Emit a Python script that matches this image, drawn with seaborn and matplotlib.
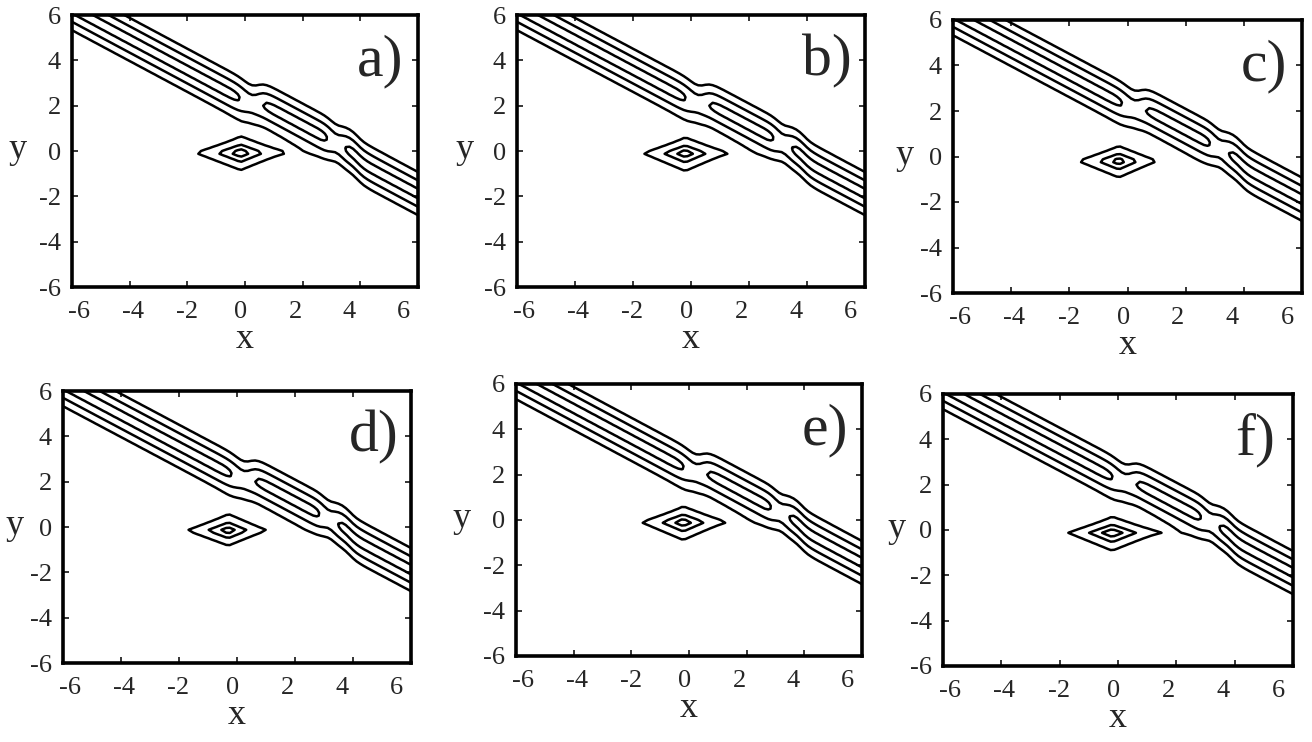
from pathlib import Path

import matplotlib.pyplot as plt
from matplotlib.axes import Axes
import numpy as np
import seaborn as sns

OUTPUT_PATH: Path = Path("out.png")

# === Chart values ===

PANEL_LABELS: list[str] = ["a)", "b)", "c)", "d)", "e)", "f)"]
TICK_VALUES: list[int] = [-6, -4, -2, 0, 2, 4, 6]
TICK_LABELS: list[str] = ["-6", "-4", "-2", "0", "2", "4", "6"]
CONTOUR_LEVELS: list[float] = [0.2, 0.45, 0.75]

# line soliton (the diagonal band), the same in all six panels
BAND_Y_AT_X0: float = 2.2
BAND_SLOPE: float = -0.68
BAND_HALF_WIDTH: float = 0.95  # vertical half width of the outer contour
BAND_PEAK: float = 0.82
BAND_GAP_PEAK: float = 0.6
GAP_X: list[float] = [0.23, 3.17]
GAP_HALF_LENGTH: list[float] = [0.4, 0.32]
BAND_SHIFT: float = 0.3
SHIFT_X: list[float] = [0.45, 3.9]

# lump near the origin, one value per panel (half widths of the outer contour)
LUMP_X: list[float] = [-0.15, -0.2, -0.3, -0.3, -0.2, -0.2]
LUMP_Y: list[float] = [-0.08, -0.1, -0.2, -0.15, -0.1, -0.12]
LUMP_PEAK: list[float] = [1.12, 1.08, 1.05, 1.05, 1.08, 1.12]
LUMP_LEFT: list[float] = [1.56, 1.45, 1.39, 1.42, 1.45, 1.51]
LUMP_RIGHT: list[float] = [1.46, 1.4, 1.28, 1.28, 1.4, 1.53]
LUMP_UP: list[float] = [0.67, 0.65, 0.63, 0.68, 0.65, 0.66]
LUMP_DOWN: list[float] = [0.76, 0.78, 0.72, 0.67, 0.78, 0.79]

# === Layout (pixels: left, top, right, bottom) ===
FIG_W, FIG_H = 1312, 742
AXES_BOXES = [
    (72, 15, 418, 287),
    (517, 15, 865, 287),
    (953, 20, 1302, 293),
    (63, 391, 411, 663),
    (516, 384, 862, 656),
    (943, 394, 1293, 666),
]
# distance of the "y" label left of the axes, pixels
YLABEL_GAP = [54, 52, 48, 48, 54, 46]

GRID = np.linspace(-6, 6, 97)


def field(i: int) -> np.ndarray:
    x, y = np.meshgrid(GRID, GRID)

    # band amplitude dips at the two gaps
    amp = np.full_like(x, BAND_PEAK)
    for g, h in zip(GAP_X, GAP_HALF_LENGTH):
        s = h / 1.5
        amp -= (BAND_PEAK - BAND_GAP_PEAK) * np.exp(-0.5 * ((x - g) / s) ** 2)

    # middle segment of the band is shifted up a little
    step = 1 / (1 + np.exp(-(x - SHIFT_X[0]) / 0.12)) - 1 / (1 + np.exp(-(x - SHIFT_X[1]) / 0.12))
    centre = BAND_Y_AT_X0 + BAND_SLOPE * x + BAND_SHIFT * step
    w = BAND_HALF_WIDTH / np.arccosh(np.sqrt(BAND_PEAK / CONTOUR_LEVELS[0]))
    band = amp / np.cosh((y - centre) / w) ** 2

    # diamond shaped lump
    a = LUMP_PEAK[i]
    r1 = np.log(a / CONTOUR_LEVELS[0])
    dx = x - LUMP_X[i]
    dy = y - LUMP_Y[i]
    rx = np.where(dx < 0, -dx / LUMP_LEFT[i], dx / LUMP_RIGHT[i])
    ry = np.where(dy > 0, dy / LUMP_UP[i], -dy / LUMP_DOWN[i])
    lump = a * np.exp(-r1 * (rx + ry))

    return band + lump


def draw_panel(ax: Axes, i: int) -> None:
    z = field(i)
    ax.contour(GRID, GRID, z, levels=CONTOUR_LEVELS, colors="black", linewidths=1.8)
    ax.set_xlim(-6, 6)
    ax.set_ylim(-6, 6)

    # tick marks on the values, x labels spread a bit tighter as in the original
    ax.set_xticks(TICK_VALUES, labels=[])
    label_pos = [-0.14 + 0.938 * v for v in TICK_VALUES]
    ax.set_xticks(label_pos, labels=TICK_LABELS, minor=True)
    ax.set_yticks(TICK_VALUES, labels=TICK_LABELS)
    ax.tick_params(which="major", direction="in", length=4, width=1.3,
                   top=True, right=True, labelsize=19)
    ax.tick_params(axis="x", which="major", pad=10)
    ax.tick_params(axis="y", which="major", pad=8)
    ax.tick_params(axis="x", which="minor", length=0, pad=10, labelsize=19)
    ax.tick_params(axis="y", which="minor", left=False, right=False)
    for spine in ax.spines.values():
        spine.set_linewidth(2.6)
        spine.set_color("black")

    ax.text(4.7, 3.95, PANEL_LABELS[i], ha="center", va="center", fontsize=43)
    ax.annotate("y", xy=(0, 0.5), xycoords="axes fraction", xytext=(-YLABEL_GAP[i] * 0.72, 1),
                textcoords="offset points", ha="center", va="center", fontsize=26)
    ax.annotate("x", xy=(0.5, 0), xycoords="axes fraction", xytext=(0, -38),
                textcoords="offset points", ha="center", va="center", fontsize=26)


def main() -> None:
    sns.set_style("ticks")
    plt.rcParams["font.family"] = ["Liberation Serif", "DejaVu Serif"]
    plt.rcParams["axes.unicode_minus"] = False

    fig = plt.figure(figsize=(FIG_W / 100, FIG_H / 100), dpi=100)
    for i, (l, t, r, b) in enumerate(AXES_BOXES):
        ax = fig.add_axes([l / FIG_W, 1 - b / FIG_H, (r - l) / FIG_W, (b - t) / FIG_H])
        draw_panel(ax, i)

    fig.savefig(OUTPUT_PATH, dpi=100, facecolor="white")


if __name__ == "__main__":
    main()
